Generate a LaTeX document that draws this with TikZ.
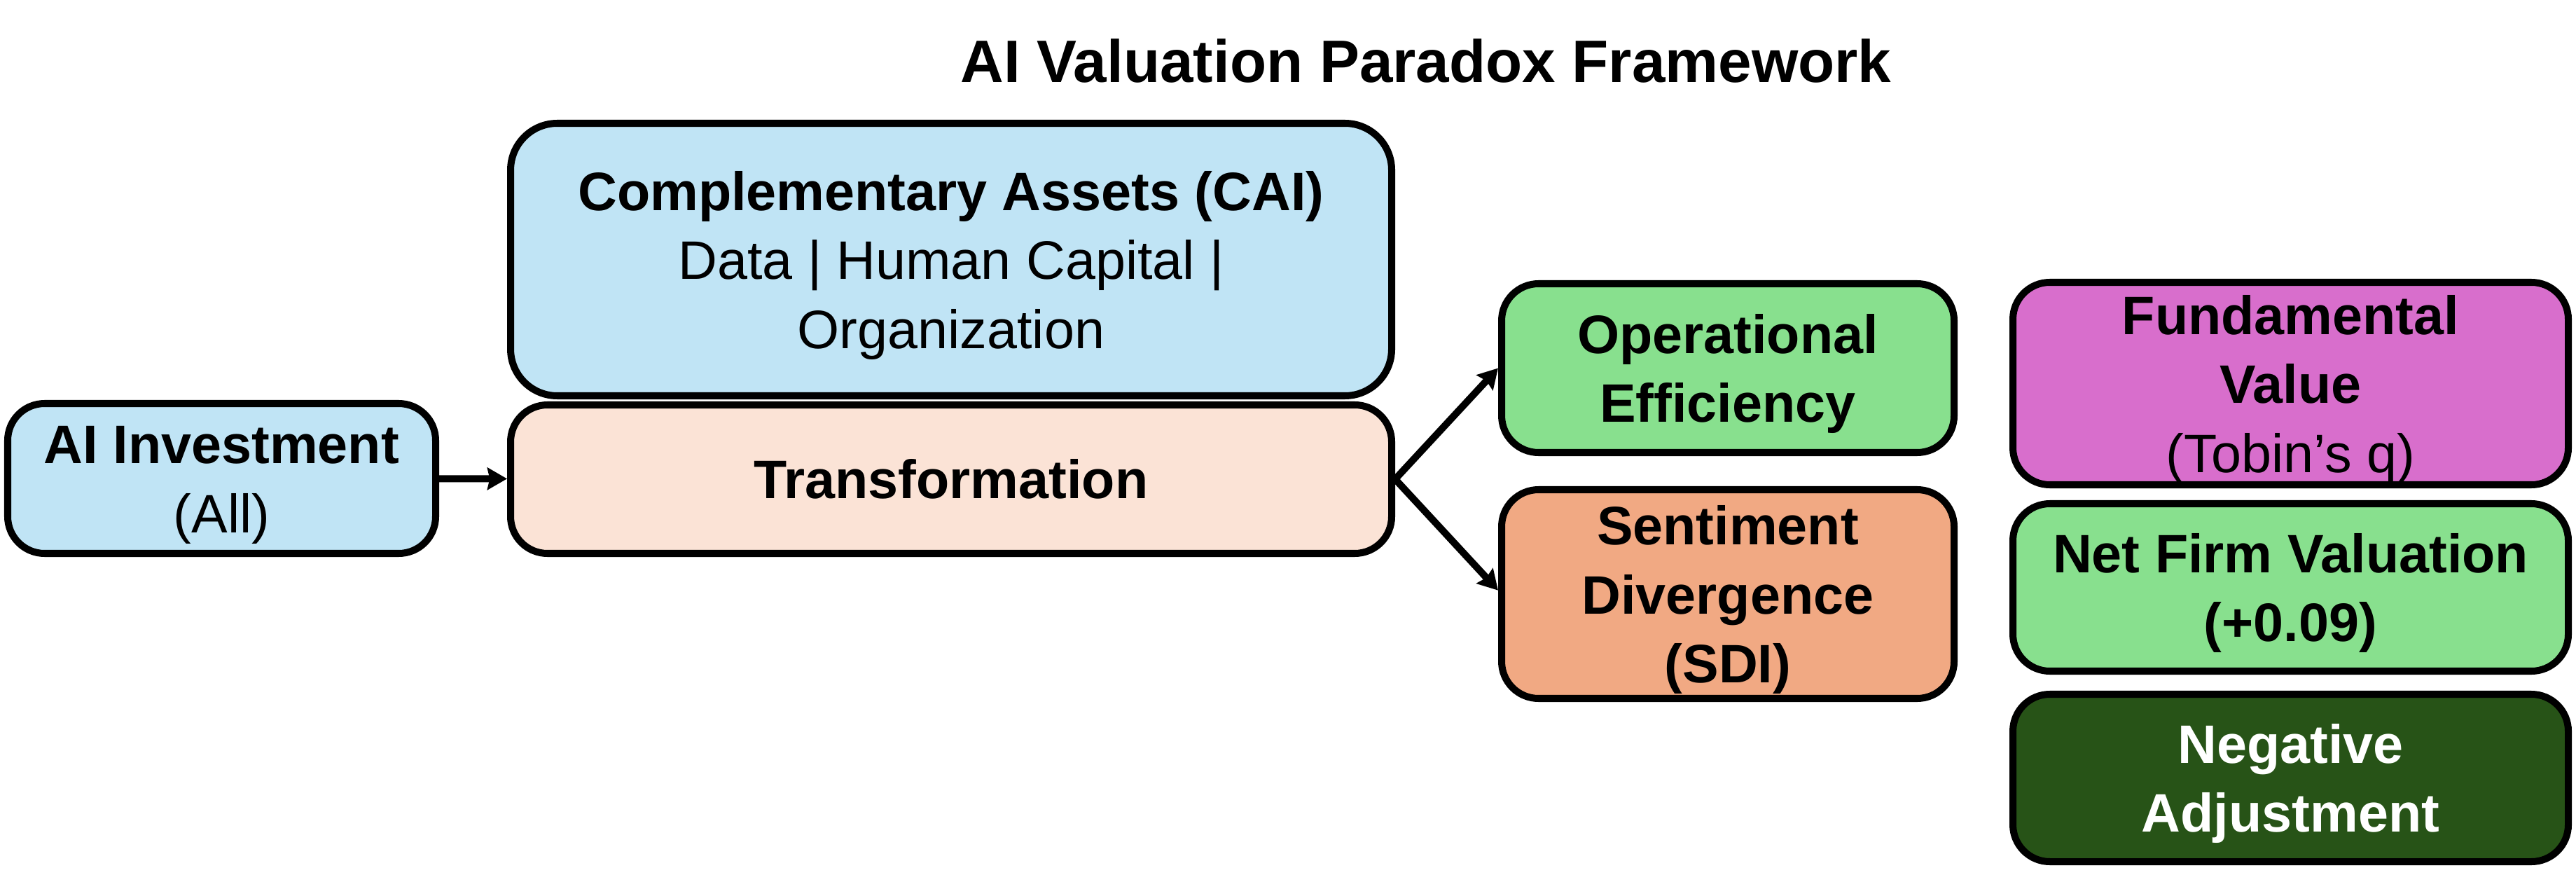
\documentclass[tikz,border=0pt]{standalone}
\usepackage{fontspec}
\setmainfont{Liberation Sans}
\usetikzlibrary{shapes,arrows.meta,positioning}

\definecolor{lightblue}{HTML}{C0E4F5}
\definecolor{peach}{HTML}{FBE3D6}
\definecolor{lightgreen}{HTML}{88E08E}
\definecolor{salmon}{HTML}{F1A983}
\definecolor{orchid}{HTML}{D86ECC}
\definecolor{darkgreen}{HTML}{275317}

% lines of a box, set a little lower (box may not grow)
\newcommand{\boxlines}[1]{\raisebox{-2.4pt}[\dimexpr\height-12pt\relax][\dimexpr\depth-12pt\relax]{\begin{tabular}{@{}c@{}}#1\end{tabular}}}

\begin{document}
\begin{tikzpicture}[
    box/.style={draw, line width=2.85pt, rounded corners=15pt, align=center,
        font=\fontsize{22}{28}\selectfont, inner sep=2pt},
    bigbox/.style={box, rounded corners=19pt},
    arr/.style={line width=2.85pt, -{Stealth[length=8pt,width=9pt,inset=1pt]}}
]
\useasboundingbox (0,0) rectangle (36.78,-12.59);

% title
\node[font=\fontsize{24.3}{28}\selectfont\bfseries] (title) at (20.36,-0.87) {AI Valuation Paradox Framework};

% investment
\node[box, fill=lightblue, minimum width=6.11cm, minimum height=2.14cm] (inv) at (3.165,-6.83)
    {\boxlines{\textbf{AI Investment}\\(All)}};

% complementary assets and transformation
\node[bigbox, fill=lightblue, minimum width=12.58cm, minimum height=3.89cm] (cai) at (13.58,-3.705)
    {\boxlines{\textbf{Complementary Assets (CAI)}\\Data | Human Capital |\\Organization}};
\node[box, fill=peach, minimum width=12.58cm, minimum height=2.12cm] (trans) at (13.58,-6.84)
    {\textbf{Transformation}};

% channels
\node[box, fill=lightgreen, minimum width=6.46cm, minimum height=2.41cm] (ope) at (24.67,-5.255)
    {\boxlines{\textbf{Operational}\\\textbf{Efficiency}}};
\node[box, fill=salmon, minimum width=6.46cm, minimum height=2.98cm] (sent) at (24.67,-8.48)
    {\boxlines{\textbf{Sentiment}\\\textbf{Divergence}\\\textbf{(SDI)}}};

% outcomes
\node[box, fill=orchid, minimum width=7.93cm, minimum height=2.89cm] (fund) at (32.705,-5.475)
    {\boxlines{\textbf{Fundamental}\\\textbf{Value}\\(Tobin’s q)}};
\node[box, fill=lightgreen, minimum width=7.93cm, minimum height=2.39cm] (net) at (32.705,-8.385)
    {\boxlines{\textbf{Net Firm Valuation}\\\textbf{(+0.09)}}};
\node[box, fill=darkgreen, text=white, minimum width=7.93cm, minimum height=2.39cm] (neg) at (32.705,-11.105)
    {\boxlines{\textbf{Negative}\\\textbf{Adjustment}}};

% arrows
\draw[arr] (inv) -- (trans);
\draw[arr] (trans.east) -- (ope.west);
\draw[arr] (trans.east) -- ([yshift=1.5pt]sent.west);
\end{tikzpicture}
\end{document}
